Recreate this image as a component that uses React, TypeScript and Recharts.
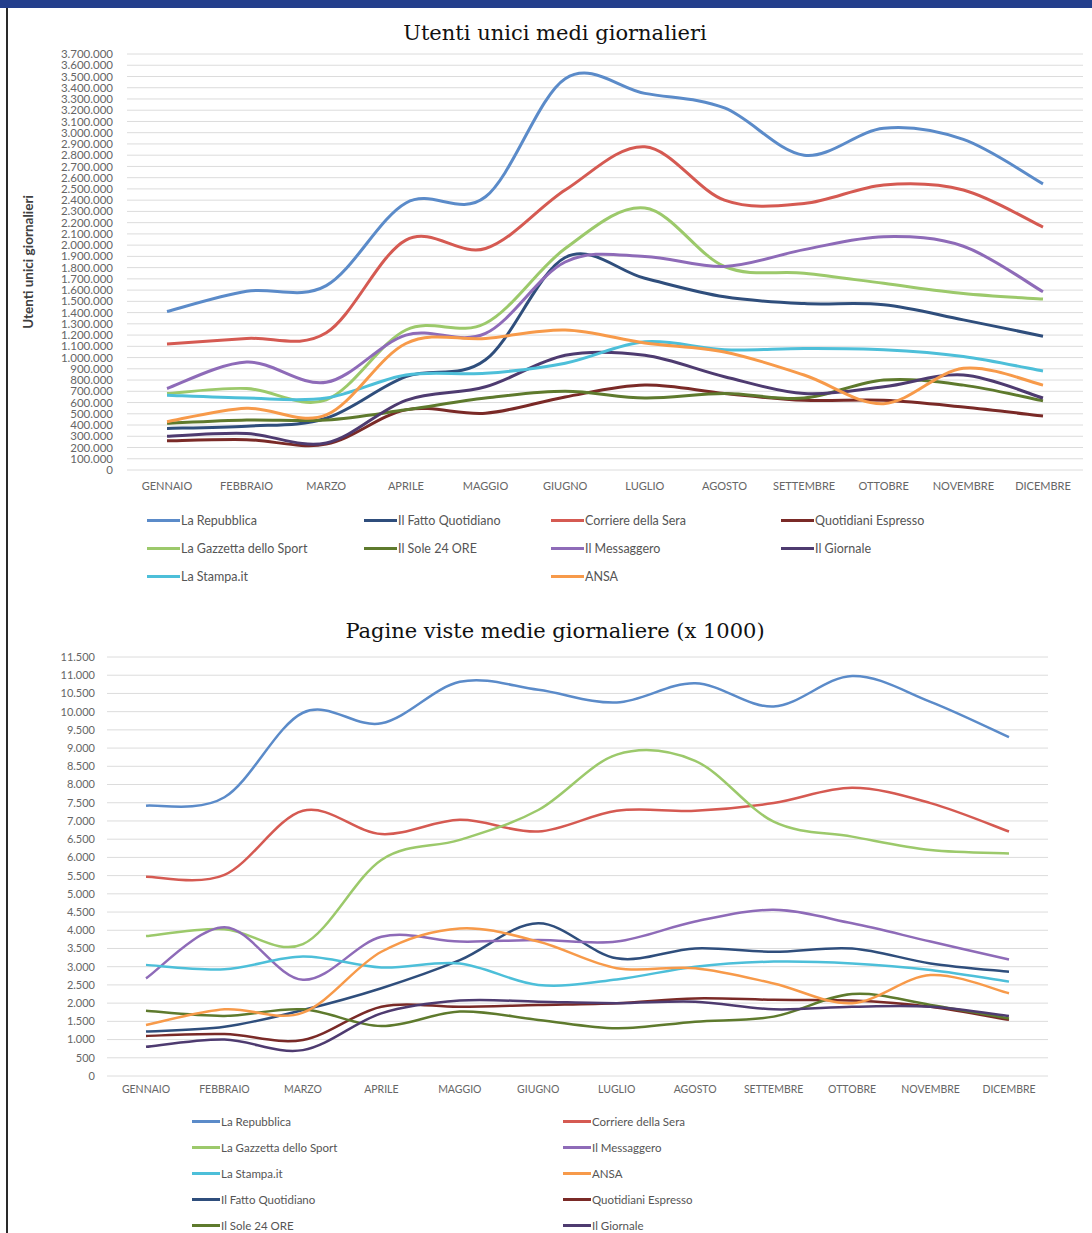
import { CartesianGrid, Line, LineChart, XAxis, YAxis } from "recharts";

const months = [
  "GENNAIO", "FEBBRAIO", "MARZO", "APRILE", "MAGGIO", "GIUGNO",
  "LUGLIO", "AGOSTO", "SETTEMBRE", "OTTOBRE", "NOVEMBRE", "DICEMBRE",
];

// Utenti unici medi giornalieri
const usersRepubblica = [1410000, 1590000, 1640000, 2375000, 2430000, 3480000, 3350000, 3220000, 2800000, 3040000, 2940000, 2545000];
const usersCorriere = [1120000, 1170000, 1220000, 2045000, 1970000, 2490000, 2875000, 2400000, 2370000, 2535000, 2490000, 2160000];
const usersGazzetta = [680000, 725000, 625000, 1245000, 1305000, 1970000, 2330000, 1810000, 1750000, 1660000, 1570000, 1520000];
const usersMessaggero = [725000, 960000, 780000, 1200000, 1215000, 1850000, 1900000, 1810000, 1960000, 2075000, 1990000, 1585000];
const usersFatto = [370000, 390000, 460000, 830000, 980000, 1890000, 1705000, 1540000, 1480000, 1470000, 1335000, 1190000];
const usersStampa = [665000, 640000, 640000, 845000, 860000, 950000, 1140000, 1070000, 1080000, 1070000, 1010000, 880000];
const usersAnsa = [430000, 550000, 490000, 1125000, 1170000, 1245000, 1130000, 1050000, 845000, 590000, 905000, 755000];
const usersGiornale = [300000, 325000, 240000, 620000, 740000, 1020000, 1020000, 830000, 680000, 740000, 845000, 640000];
const usersEspresso = [260000, 270000, 230000, 535000, 505000, 650000, 755000, 680000, 620000, 620000, 560000, 480000];
const usersSole = [415000, 445000, 445000, 535000, 640000, 700000, 640000, 680000, 640000, 800000, 755000, 615000];

// Pagine viste medie giornaliere (x 1000)
const viewsRepubblica = [7420, 7650, 9970, 9680, 10820, 10600, 10250, 10780, 10140, 10980, 10270, 9300];
const viewsCorriere = [5470, 5520, 7280, 6640, 7030, 6710, 7280, 7280, 7490, 7910, 7490, 6710];
const viewsGazzetta = [3840, 4030, 3620, 5930, 6480, 7300, 8820, 8650, 6980, 6570, 6200, 6110];
const viewsMessaggero = [2680, 4080, 2640, 3820, 3690, 3730, 3690, 4240, 4560, 4190, 3690, 3200];
const viewsStampa = [3050, 2930, 3280, 2980, 3090, 2500, 2650, 3000, 3140, 3090, 2910, 2590];
const viewsAnsa = [1400, 1830, 1740, 3410, 4050, 3690, 2960, 2960, 2540, 2000, 2770, 2270];
const viewsFatto = [1220, 1350, 1810, 2410, 3180, 4190, 3230, 3500, 3410, 3500, 3090, 2860];
const viewsEspresso = [1100, 1150, 990, 1900, 1900, 1950, 2000, 2130, 2090, 2070, 1900, 1540];
const viewsGiornale = [800, 1000, 710, 1720, 2070, 2040, 2000, 2040, 1830, 1900, 1900, 1650];
const viewsSole = [1790, 1650, 1830, 1370, 1770, 1540, 1310, 1490, 1630, 2250, 1950, 1580];

const usersTicks = [
  0, 100000, 200000, 300000, 400000, 500000, 600000, 700000, 800000, 900000,
  1000000, 1100000, 1200000, 1300000, 1400000, 1500000, 1600000, 1700000, 1800000, 1900000,
  2000000, 2100000, 2200000, 2300000, 2400000, 2500000, 2600000, 2700000, 2800000, 2900000,
  3000000, 3100000, 3200000, 3300000, 3400000, 3500000, 3600000, 3700000,
];
const viewsTicks = [
  0, 500, 1000, 1500, 2000, 2500, 3000, 3500, 4000, 4500, 5000, 5500,
  6000, 6500, 7000, 7500, 8000, 8500, 9000, 9500, 10000, 10500, 11000, 11500,
];

type Serie = { key: string; name: string; color: string };

const series: Record<string, Serie> = {
  rep: { key: "rep", name: "La Repubblica", color: "#5b8bc9" },
  gaz: { key: "gaz", name: "La Gazzetta dello Sport", color: "#9cc96b" },
  sta: { key: "sta", name: "La Stampa.it", color: "#4dbfd9" },
  fat: { key: "fat", name: "Il Fatto Quotidiano", color: "#2f4e7c" },
  sol: { key: "sol", name: "Il Sole 24 ORE", color: "#5e7a2d" },
  cor: { key: "cor", name: "Corriere della Sera", color: "#d55a52" },
  mes: { key: "mes", name: "Il Messaggero", color: "#8e6bb8" },
  ans: { key: "ans", name: "ANSA", color: "#f79a4a" },
  esp: { key: "esp", name: "Quotidiani Espresso", color: "#7a2a27" },
  gio: { key: "gio", name: "Il Giornale", color: "#4e3b70" },
};

const drawOrder = ["rep", "fat", "cor", "esp", "gaz", "sol", "mes", "gio", "sta", "ans"];

const usersData = months.map((m, i) => ({
  month: m,
  rep: usersRepubblica[i], cor: usersCorriere[i], gaz: usersGazzetta[i], mes: usersMessaggero[i],
  fat: usersFatto[i], sta: usersStampa[i], ans: usersAnsa[i], gio: usersGiornale[i],
  esp: usersEspresso[i], sol: usersSole[i],
}));

const viewsData = months.map((m, i) => ({
  month: m,
  rep: viewsRepubblica[i], cor: viewsCorriere[i], gaz: viewsGazzetta[i], mes: viewsMessaggero[i],
  fat: viewsFatto[i], sta: viewsStampa[i], ans: viewsAnsa[i], gio: viewsGiornale[i],
  esp: viewsEspresso[i], sol: viewsSole[i],
}));

// legend layouts (row-major, null = empty cell)
const usersLegend = ["rep", "fat", "cor", "esp", "gaz", "sol", "mes", "gio", "sta", null, "ans", null];
const viewsLegend = ["rep", "cor", "gaz", "mes", "sta", "ans", "fat", "esp", "sol", "gio"];

const sans = "Lato, 'Open Sans', sans-serif";

function dots(v: number) {
  return String(v).replace(/\B(?=(\d{3})+(?!\d))/g, ".");
}

// Catmull-Rom smoothing, like the spreadsheet's "smoothed line"
function smooth(context: any) {
  let pts: number[][] = [];
  return {
    areaStart() {},
    areaEnd() {},
    lineStart() {
      pts = [];
    },
    point(x: number, y: number) {
      pts.push([+x, +y]);
    },
    lineEnd() {
      const n = pts.length;
      if (!n) return;
      context.moveTo(pts[0][0], pts[0][1]);
      for (let i = 0; i < n - 1; i++) {
        const p0 = pts[Math.max(i - 1, 0)];
        const p1 = pts[i];
        const p2 = pts[i + 1];
        const p3 = pts[Math.min(i + 2, n - 1)];
        context.bezierCurveTo(
          p1[0] + (p2[0] - p0[0]) / 6,
          p1[1] + (p2[1] - p0[1]) / 6,
          p2[0] - (p3[0] - p1[0]) / 6,
          p2[1] - (p3[1] - p1[1]) / 6,
          p2[0],
          p2[1],
        );
      }
    },
  };
}

function LegendGrid({
  items, left, top, columns, rowHeight, fontSize, iconWidth,
}: {
  items: (string | null)[];
  left: number;
  top: number;
  columns: string;
  rowHeight: number;
  fontSize: number;
  iconWidth: number;
}) {
  return (
    <div
      style={{
        position: "absolute", left, top, display: "grid",
        gridTemplateColumns: columns, gridAutoRows: rowHeight,
        fontFamily: sans, fontSize, color: "#555",
      }}
    >
      {items.map((k, i) =>
        k ? (
          <div key={k} style={{ display: "flex", alignItems: "center" }}>
            <span style={{ width: iconWidth, height: 3, background: series[k].color, marginRight: 1 }} />
            <span style={{ whiteSpace: "nowrap" }}>{series[k].name}</span>
          </div>
        ) : (
          <div key={`empty-${i}`} />
        ),
      )}
    </div>
  );
}

const titleStyle = {
  position: "absolute" as const,
  left: 0,
  width: 1110,
  textAlign: "center" as const,
  fontFamily: "'DejaVu Serif', serif",
  fontSize: 21,
  lineHeight: "26px",
  color: "#111",
};

export default function App() {
  return (
    <div
      style={{
        position: "absolute", left: 0, top: 0, width: 1092, height: 1233,
        background: "#fff", overflow: "hidden",
      }}
    >
      <div style={{ position: "absolute", left: 0, top: 0, width: 1092, height: 8, background: "#243f8c" }} />
      <div style={{ position: "absolute", left: 6, top: 8, width: 2, height: 1225, background: "#2a2a2a" }} />

      <div style={{ ...titleStyle, top: 20 }}>Utenti unici medi giornalieri</div>
      <div
        style={{
          position: "absolute", left: 28, top: 262, transform: "translate(-50%, -50%) rotate(-90deg)",
          whiteSpace: "nowrap", fontFamily: sans, fontWeight: 700, fontSize: 13.5, color: "#404040",
        }}
      >
        Utenti unici giornalieri
      </div>

      <div style={{ position: "absolute", left: 0, top: 0 }}>
        <LineChart width={1092} height={600} data={usersData} margin={{ top: 54, right: 9, bottom: 100, left: 0 }}>
          <CartesianGrid vertical={false} stroke="#dcdcdc" />
          <XAxis
            dataKey="month"
            scale="point"
            padding={{ left: 40, right: 40 }}
            axisLine={false}
            tickLine={false}
            tickSize={0}
            tickMargin={12}
            height={30}
            interval={0}
            tick={{ fontSize: 11, fill: "#666", fontFamily: sans }}
          />
          <YAxis
            width={127}
            domain={[0, 3700000]}
            ticks={usersTicks}
            interval={0}
            axisLine={false}
            tickLine={false}
            tickSize={0}
            tickMargin={14}
            tickFormatter={dots}
            tick={{ fontSize: 11.5, fill: "#666", fontFamily: sans }}
          />
          {drawOrder.map((k) => (
            <Line
              key={k}
              dataKey={k}
              name={series[k].name}
              type={smooth as any}
              stroke={series[k].color}
              strokeWidth={3}
              dot={false}
              activeDot={false}
              isAnimationActive={false}
            />
          ))}
        </LineChart>
      </div>
      <LegendGrid
        items={usersLegend} left={147} top={506} columns="217px 187px 230px 200px"
        rowHeight={28} fontSize={12.5} iconWidth={33}
      />

      <div style={{ ...titleStyle, top: 618 }}>Pagine viste medie giornaliere (x 1000)</div>

      <div style={{ position: "absolute", left: 0, top: 600 }}>
        <LineChart width={1092} height={633} data={viewsData} margin={{ top: 57, right: 44, bottom: 127, left: 0 }}>
          <CartesianGrid vertical={false} stroke="#dcdcdc" />
          <XAxis
            dataKey="month"
            scale="point"
            padding={{ left: 39, right: 39 }}
            axisLine={false}
            tickLine={false}
            tickSize={0}
            tickMargin={10}
            height={30}
            interval={0}
            tick={{ fontSize: 10.5, fill: "#666", fontFamily: sans }}
          />
          <YAxis
            width={107}
            domain={[0, 11500]}
            ticks={viewsTicks}
            interval={0}
            axisLine={false}
            tickLine={false}
            tickSize={0}
            tickMargin={12}
            tickFormatter={dots}
            tick={{ fontSize: 11, fill: "#666", fontFamily: sans }}
          />
          {drawOrder.map((k) => (
            <Line
              key={k}
              dataKey={k}
              name={series[k].name}
              type={smooth as any}
              stroke={series[k].color}
              strokeWidth={2.5}
              dot={false}
              activeDot={false}
              isAnimationActive={false}
            />
          ))}
        </LineChart>
      </div>
      <LegendGrid
        items={viewsLegend} left={192} top={1108} columns="371px 300px"
        rowHeight={26} fontSize={11.5} iconWidth={28}
      />
    </div>
  );
}
